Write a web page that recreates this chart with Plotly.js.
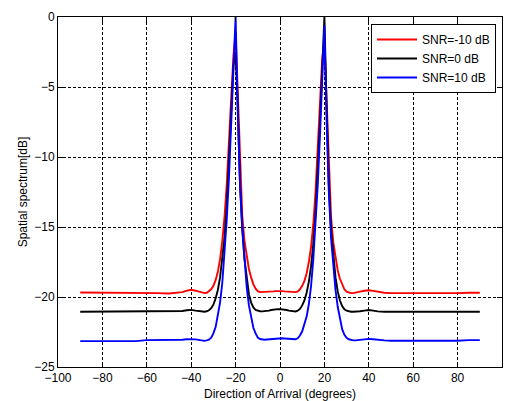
<!DOCTYPE html>
<html>
<head>
<meta charset="utf-8">
<script src="https://cdn.plot.ly/plotly-3.0.1.min.js"></script>
<style>html,body{margin:0;padding:0;background:#fff;}#chart{width:512px;height:401px;}</style>
</head>
<body>
<div id="chart"></div>
<script>
var doa = [-90,-85,-80,-75,-70,-65,-60,-55,-50,-47,-44,-42,-40,-38,-36,
  -34,-33,-32,-31,-30,-29,-28,-27,-26,-25,-24,-23,-22,-21,-20,-19,-18,-17,-16,-15,-14,-13,-12,-11,-10,-9,-8,-7,-6,-5,-4,-3,-2,-1,
  0,1,2,3,4,5,6,7,8,9,10,11,12,13,14,15,16,17,18,19,20,21,22,23,24,25,26,27,28,29,30,31,32,33,34,
  36,38,40,42,44,47,50,55,60,65,70,75,80,85,90];

var snrM10 = [-19.68,-19.68,-19.68,-19.68,-19.68,-19.68,-19.68,-19.72,-19.75,-19.72,-19.65,-19.55,-19.48,-19.55,-19.65,
  -19.72,-19.7,-19.6,-19.45,-19.2,-18.8,-18.2,-17.3,-16.0,-14.3,-12.0,-8.8,-5.5,-2.8,-1.1,-5.5,-11.0,-14.2,-16.0,-17.2,-18.0,-18.6,-19.1,-19.4,-19.58,-19.65,-19.65,-19.65,-19.65,-19.63,-19.62,-19.6,-19.58,-19.57,
  -19.57,-19.58,-19.6,-19.62,-19.63,-19.65,-19.65,-19.65,-19.6,-19.45,-19.2,-18.85,-18.3,-17.5,-16.4,-14.8,-12.5,-9.5,-6.0,-3.0,-1.7,-6.0,-11.2,-14.3,-16.1,-17.3,-18.1,-18.7,-19.15,-19.45,-19.62,-19.7,-19.72,-19.72,-19.7,
  -19.62,-19.55,-19.52,-19.56,-19.63,-19.7,-19.72,-19.72,-19.75,-19.77,-19.77,-19.77,-19.72,-19.7,-19.7];

var snr0 = [-21.05,-21.05,-21.05,-21.05,-21.05,-21.05,-21.0,-21.03,-21.03,-21.03,-21.0,-20.95,-20.92,-20.97,-21.02,
  -21.05,-21.02,-20.95,-20.8,-20.55,-20.1,-19.5,-18.6,-17.4,-15.8,-13.5,-10.5,-7.0,-3.5,-2.6,-6.5,-12.0,-15.2,-17.3,-18.8,-19.8,-20.4,-20.75,-20.92,-21.0,-21.02,-21.03,-21.02,-21.0,-20.97,-20.93,-20.9,-20.88,-20.87,
  -20.87,-20.88,-20.9,-20.93,-20.97,-21.0,-21.02,-21.03,-20.98,-20.85,-20.6,-20.25,-19.7,-18.9,-17.8,-16.2,-14.0,-11.0,-7.5,-3.8,0,-6.5,-12.0,-15.2,-17.2,-18.6,-19.6,-20.25,-20.65,-20.88,-20.98,-21.03,-21.05,-21.05,-21.05,
  -21.02,-20.97,-20.93,-20.97,-21.03,-21.05,-21.05,-21.05,-21.05,-21.05,-21.05,-21.05,-21.05,-21.05,-21.05];

var snr10 = [-23.15,-23.15,-23.15,-23.15,-23.15,-23.15,-23.08,-23.08,-23.08,-23.08,-23.05,-23.02,-23.0,-23.03,-23.08,
  -23.13,-23.1,-23.05,-22.9,-22.6,-22.15,-21.4,-20.4,-19.0,-17.0,-14.5,-11.5,-8.0,-4.0,0,-7.0,-12.0,-15.0,-17.5,-19.3,-20.6,-21.5,-22.2,-22.6,-22.9,-23.0,-23.05,-23.05,-23.04,-23.02,-23.0,-22.98,-22.96,-22.95,
  -22.95,-22.95,-22.96,-22.98,-23.0,-23.02,-23.03,-23.02,-22.95,-22.75,-22.45,-22.0,-21.4,-20.5,-19.2,-17.3,-15.0,-12.0,-8.5,-4.5,-0.6,-7.5,-12.5,-15.8,-18.0,-19.5,-20.7,-21.6,-22.3,-22.7,-22.92,-23.02,-23.08,-23.1,-23.1,
  -23.06,-23.02,-22.99,-23.02,-23.06,-23.1,-23.12,-23.12,-23.15,-23.17,-23.17,-23.17,-23.12,-23.08,-23.08];

var seriesNames = ['SNR=-10 dB', 'SNR=0 dB', 'SNR=10 dB'];
var seriesColors = ['#ff0000', '#000000', '#0000ff'];
var xTicks = [-100,-80,-60,-40,-20,0,20,40,60,80,100];
var yTicks = [-25,-20,-15,-10,-5,0];

var font = {family: '"Liberation Sans", Arial, sans-serif', size: 12, color: '#000'};
var ys = [snrM10, snr0, snr10];
var traces = ys.map(function (y, i) {
  return {x: doa, y: y, type: 'scatter', mode: 'lines', name: seriesNames[i],
    line: {color: seriesColors[i], width: 1.9}};
});

var axisCommon = {
  showline: true, linecolor: '#000', linewidth: 1, mirror: 'ticks',
  ticks: 'inside', ticklen: 5, tickcolor: '#000', tickwidth: 1,
  showgrid: true, gridcolor: '#000', gridwidth: 1, griddash: '3px,2px',
  zeroline: false, tickfont: font
};

var layout = {
  width: 512, height: 401,
  margin: {l: 58, r: 10, t: 17, b: 34},
  paper_bgcolor: '#fff', plot_bgcolor: '#fff',
  font: font,
  showlegend: true,
  legend: {x: 0.9865, y: 0.98, xanchor: 'right', yanchor: 'top', itemwidth: 40,
    bgcolor: '#fff', bordercolor: '#000', borderwidth: 1, font: font, tracegroupgap: 0},
  xaxis: Object.assign({}, axisCommon, {range: [-100, 100], tickvals: xTicks,
    title: {text: 'Direction of Arrival (degrees)', font: font, standoff: 11}}),
  yaxis: Object.assign({}, axisCommon, {range: [-25, 0], tickvals: yTicks,
    title: {text: 'Spatial spectrum[dB]', font: font, standoff: 4}})
};

Plotly.newPlot('chart', traces, layout, {displayModeBar: false, staticPlot: true});
</script>
</body>
</html>
